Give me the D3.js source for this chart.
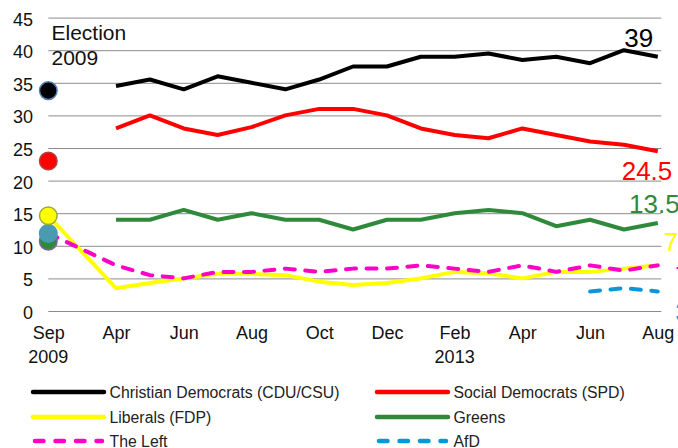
<!DOCTYPE html>
<html><head><meta charset="utf-8">
<script src="https://cdn.jsdelivr.net/npm/d3@7"></script>
<style>
html,body{margin:0;padding:0;background:#fff;}
svg{display:block;font-family:"Liberation Sans",Arial,sans-serif;}
</style></head>
<body><svg id="c" width="678" height="448"></svg>
<script>
// ---- data ----
const months = ["Sep","","Apr","May","Jun","Jul","Aug","Sep","Oct","Nov","Dec","Jan","Feb","Mar","Apr","May","Jun","Jul","Aug"];
const years  = ["2009","","","","","","","","","","","","2013","","","","","",""];
const yTicks = [0,5,10,15,20,25,30,35,40,45];
const cdu  = [null,null,34.5,35.5,34,36,35,34,35.5,37.5,37.5,39,39,39.5,38.5,39,38,40,39];
const spd  = [null,null,28,30,28,27,28.2,30,31,31,30,28,27,26.5,28,27,26,25.5,24.5];
const fdp  = [14.6,null,3.5,4.3,5,5.7,5.7,5.5,4.5,4,4.3,5,6,5.8,5,6,6,6.5,7];
const grn  = [null,null,14,14,15.5,14,15,14,14,12.5,14,14,15,15.5,15,13,14,12.5,13.5];
const left = [11.9,null,7,5.5,5,6,6,6.5,6,6.5,6.5,7,6.5,6,7,6,7,6.2,7];
const afd  = [null,null,null,null,null,null,null,null,null,null,null,null,null,null,null,null,3,3.5,3];
const election = [33.8, 23.0, 14.6, 10.7, 11.9]; // CDU, SPD, FDP, Greens, Left
const seriesNames = ["Christian Democrats (CDU/CSU)","Social Democrats (SPD)","Liberals (FDP)","Greens","The Left","AfD"];
const endLabels = ["39","24.5","7","13.5","7","3"];

// ---- setup ----
const svg = d3.select("#c");
const idx = d3.range(months.length);
const x = d3.scalePoint().domain(idx).range([48.3, 657.8]);
const y = d3.scaleLinear().domain([0,45]).range([311, 17.6]);

const series = [
  {name:seriesNames[0], vals:cdu,  color:"#000000", dash:null},
  {name:seriesNames[1], vals:spd,  color:"#ff0000", dash:null},
  {name:seriesNames[2], vals:fdp,  color:"#ffff00", dash:null},
  {name:seriesNames[3], vals:grn,  color:"#2e8a3a", dash:null},
  {name:seriesNames[4], vals:left, color:"#ff00c8", dash:"10,10.5"},
  {name:seriesNames[5], vals:afd,  color:"#0a96d8", dash:"10,10.5"}
];

// gridlines
svg.append("g").selectAll("line").data(yTicks).join("line")
  .attr("x1", x(0)).attr("x2", x(idx.length-1)+3.5)
  .attr("y1", d=>y(d)+0.5).attr("y2", d=>y(d)+0.5)
  .attr("stroke","#8c8c8c").attr("stroke-width",1);

// y axis
const ya = svg.append("g").attr("transform","translate(33,0)")
  .call(d3.axisLeft(y).tickValues(yTicks).tickSize(0).tickPadding(0));
ya.select(".domain").remove();
ya.selectAll("text").attr("font-size",18).attr("fill","#111")
  .attr("font-family","Liberation Sans, Arial, sans-serif").attr("dy","0.42em");

// x axis
const xa = svg.append("g").attr("transform","translate(0,311)")
  .call(d3.axisBottom(x).tickValues(idx.filter(i=>i%2===0)).tickFormat(i=>months[i]).tickSize(0).tickPadding(0));
xa.select(".domain").remove();
xa.selectAll("text").attr("font-size",18).attr("fill","#111")
  .attr("font-family","Liberation Sans, Arial, sans-serif").attr("dy",null).attr("y",28);
svg.append("g").selectAll("text").data(idx.filter(i=>years[i])).join("text")
  .attr("x", i=>x(i)).attr("y", 362.5).attr("text-anchor","middle")
  .attr("font-size",18).attr("fill","#111").text(i=>years[i]);

// lines
const line = d3.line().x(d=>x(d.i)).y(d=>y(d.v));
series.forEach(s=>{
  const pts = s.vals.map((v,i)=>({i,v})).filter(d=>d.v!==null);
  svg.append("path").datum(pts).attr("d", line)
    .attr("fill","none").attr("stroke", s.color).attr("stroke-width",4)
    .attr("stroke-linejoin","round")
    .attr("stroke-linecap", s.dash ? "round" : "butt")
    .attr("stroke-dasharray", s.dash);
});

// election 2009 markers
const markers = [
  {v:election[0], fill:"#000000", stroke:"#4f81bd"},
  {v:election[1], fill:"#ff0000", stroke:"#b04040"},
  {v:election[3], fill:"#2e8a3a", stroke:"#8064a2"},
  {v:election[4], fill:"#4a9bb2", stroke:"#4a9bb2"},
  {v:election[2], fill:"#ffff00", stroke:"#9aaa3a"}
];
svg.append("g").selectAll("circle").data(markers).join("circle")
  .attr("cx", x(0)).attr("cy", d=>y(d.v)).attr("r",8.8)
  .attr("fill", d=>d.fill).attr("stroke", d=>d.stroke).attr("stroke-width",1.5);

svg.append("text").attr("x",51.5).attr("y",40).attr("font-size",21).attr("fill","#111").text("Election");
svg.append("text").attr("x",51.5).attr("y",65).attr("font-size",21).attr("fill","#111").text("2009");

// end labels
const last = idx.length-1;
const lab = [
  {t:endLabels[0], v:cdu[last],  c:"#000000", dx:-19,   dy:-9.7, a:"middle"},
  {t:endLabels[1], v:spd[last],  c:"#ff0000", dx:14.5,  dy:28.7, a:"end"},
  {t:endLabels[2], v:fdp[last],  c:"#ffff00", dx:6,     dy:-14.7, a:"start"},
  {t:endLabels[3], v:grn[last],  c:"#2e8a3a", dx:-28.8, dy:-10, a:"start"},
  {t:endLabels[4], v:left[last], c:"#ff00c8", dx:17.5,  dy:19.6, a:"start"},
  {t:endLabels[5], v:afd[last],  c:"#0a96d8", dx:17.5,  dy:29.5, a:"start"}
];
svg.append("g").selectAll("text").data(lab).join("text")
  .attr("x", d=>x(last)+d.dx).attr("y", d=>y(d.v)+d.dy)
  .attr("text-anchor", d=>d.a).attr("font-size",26).attr("fill", d=>d.c).text(d=>d.t);

// legend
const legPos = [[33,392],[377,392],[33,417],[377,417],[33,441],[377,441]];
const lg = svg.append("g").selectAll("g").data(series).join("g")
  .attr("transform",(d,i)=>`translate(${legPos[i][0]},${legPos[i][1]})`);
lg.append("line").attr("x1",d=>d.dash?2:0).attr("x2",d=>d.dash?69:71).attr("y1",0).attr("y2",0)
  .attr("stroke",d=>d.color).attr("stroke-width",4.5)
  .attr("stroke-linecap","round")
  .attr("stroke-dasharray",d=>d.dash?"8.5,12":null);
lg.append("text").attr("x",76.5).attr("y",0).attr("dy","0.36em")
  .attr("font-size",15.8).attr("fill","#222").text(d=>d.name);
</script></body></html>
